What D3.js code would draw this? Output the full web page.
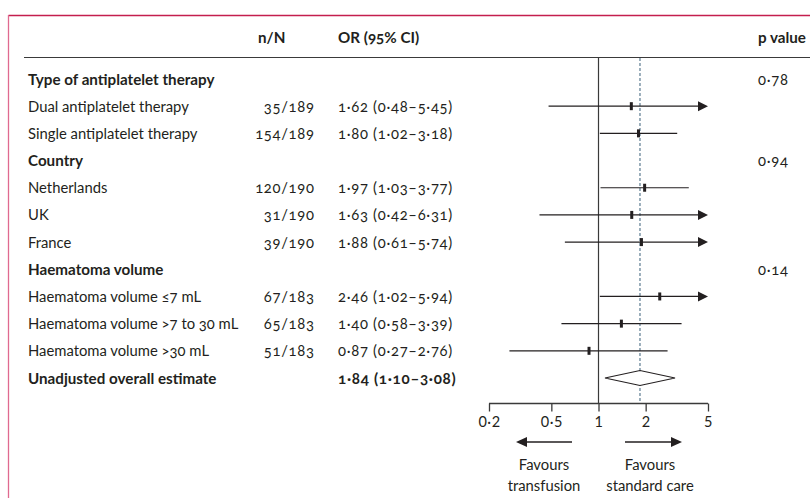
<!DOCTYPE html>
<html>
<head>
<meta charset="utf-8">
<script src="https://cdn.jsdelivr.net/npm/d3@7"></script>
<style>
  body { margin: 0; background: #fff; }
  svg text { font-family: Lato, "Open Sans", sans-serif; font-size: 14.8px; fill: #231f20;
             font-variant-numeric: oldstyle-nums; }
  svg text.bold { font-weight: bold; font-size: 15.2px; }
  svg text.num { letter-spacing: 0.7px; }
  svg .tick text { font-variant-numeric: lining-nums; font-size: 14.5px; letter-spacing: 0.5px; }
</style>
</head>
<body>
<svg id="chart" width="810" height="498"></svg>
<script>
// rows of the forest plot, top to bottom
var labels = ["Type of antiplatelet therapy", "Dual antiplatelet therapy", "Single antiplatelet therapy",
              "Country", "Netherlands", "UK", "France",
              "Haematoma volume", "Haematoma volume \u22647 mL", "Haematoma volume >7 to 30 mL",
              "Haematoma volume >30 mL", "Unadjusted overall estimate"];
var rowType = ["head", "item", "item", "head", "item", "item", "item",
               "head", "item", "item", "item", "total"];
var counts = ["", "35/189", "154/189", "", "120/190", "31/190", "39/190",
              "", "67/183", "65/183", "51/183", ""];
var or = [null, 1.62, 1.80, null, 1.97, 1.63, 1.88, null, 2.46, 1.40, 0.87, 1.84];
var ciLow = [null, 0.48, 1.02, null, 1.03, 0.42, 0.61, null, 1.02, 0.58, 0.27, 1.10];
var ciHigh = [null, 5.45, 3.18, null, 3.77, 6.31, 5.74, null, 5.94, 3.39, 2.76, 3.08];
var pValues = ["0\u00b778", "", "", "0\u00b794", "", "", "", "0\u00b714", "", "", "", ""];
var ticks = [0.2, 0.5, 1, 2, 5];

var svg = d3.select("#chart");

function fmt(v) {
    return v.toFixed(2).replace(".", "\u00b7");
}

// frame
svg.append("line").attr("x1", 8.5).attr("x2", 810).attr("y1", 15.5).attr("y2", 15.5)
   .attr("stroke", "#c41e4e").attr("stroke-width", 1.3);
svg.append("line").attr("x1", 8.5).attr("x2", 8.5).attr("y1", 15).attr("y2", 498)
   .attr("stroke", "#e06a90").attr("stroke-width", 1.3);

var x = d3.scaleLog().domain([0.2, 5]).range([489, 708]);
var y = d3.scalePoint().domain(d3.range(labels.length)).range([79, 378]);

var colN = 314, colOR = 338, colP = 758, colLabel = 28;

// header
var hy = 43;
svg.append("text").attr("class", "bold").attr("x", 258).attr("y", hy).text("n/N");
svg.append("text").attr("class", "bold").attr("x", colOR).attr("y", hy).text("OR (95% CI)");
svg.append("text").attr("class", "bold").attr("x", colP).attr("y", hy).text("p value");
svg.append("line").attr("x1", 24).attr("x2", 810).attr("y1", 57.5).attr("y2", 57.5)
   .attr("stroke", "#3a3a3a").attr("stroke-width", 1.2);

// reference lines
var axisY = 403.5;
svg.append("line").attr("x1", x(1)).attr("x2", x(1)).attr("y1", 58).attr("y2", axisY)
   .attr("stroke", "#3a3a3a").attr("stroke-width", 1.2);
svg.append("line").attr("x1", x(or[11])).attr("x2", x(or[11])).attr("y1", 58).attr("y2", axisY)
   .attr("stroke", "#4d6f86").attr("stroke-width", 1.1).attr("stroke-dasharray", "3,2");

// text columns
var rows = svg.append("g").selectAll("g").data(d3.range(labels.length)).join("g")
  .attr("transform", function(i) { return "translate(0," + (y(i) + 5.5) + ")"; });

rows.append("text").attr("x", colLabel)
  .attr("class", function(i) { return rowType[i] == "item" ? null : "bold"; })
  .text(function(i) { return labels[i]; });
rows.append("text").attr("class", "num").attr("x", colN + 0.7).attr("text-anchor", "end")
  .text(function(i) { return counts[i]; });
rows.append("text").attr("x", colOR)
  .attr("class", function(i) { return rowType[i] == "total" ? "bold num" : "num"; })
  .text(function(i) { return or[i] == null ? "" : fmt(or[i]) + " (" + fmt(ciLow[i]) + "\u2013" + fmt(ciHigh[i]) + ")"; });
rows.append("text").attr("class", "num").attr("x", colP)
  .text(function(i) { return pValues[i]; });

// confidence intervals
var items = d3.range(labels.length).filter(function(i) { return rowType[i] == "item"; });
var maxX = x.domain()[1];
var g = svg.append("g");

items.forEach(function(i) {
    var cy = y(i);
    var hi = Math.min(ciHigh[i], maxX);
    var clipped = ciHigh[i] > maxX;
    var xEnd = clipped ? x(maxX) - 10 : x(hi);
    g.append("line").attr("x1", x(ciLow[i])).attr("x2", xEnd).attr("y1", cy).attr("y2", cy)
      .attr("stroke", "#231f20").attr("stroke-width", 1.2);
    if (clipped) {
        g.append("path")
          .attr("d", "M" + (x(maxX) - 10) + "," + (cy - 5) + "L" + x(maxX) + "," + cy + "L" + (x(maxX) - 10) + "," + (cy + 5) + "Z")
          .attr("fill", "#231f20");
    }
    g.append("rect").attr("x", x(or[i]) - 1.5).attr("y", cy - 4).attr("width", 3).attr("height", 8)
      .attr("fill", "#231f20");
});

// overall diamond
var t = 11, ty = y(t);
g.append("path")
  .attr("d", "M" + x(ciLow[t]) + "," + ty + "L" + x(or[t]) + "," + (ty - 7.5) + "L" + x(ciHigh[t]) + "," + ty +
             "L" + x(or[t]) + "," + (ty + 7.5) + "Z")
  .attr("fill", "#fff").attr("stroke", "#231f20").attr("stroke-width", 1.1);

// axis
var axis = svg.append("g").attr("transform", "translate(0," + axisY + ")")
  .call(d3.axisBottom(x).tickValues(ticks).tickSize(8).tickPadding(5)
        .tickFormat(function(d) { return String(d).replace(".", "\u00b7"); }));
axis.select(".domain").attr("stroke", "#3a3a3a").attr("stroke-width", 1.3).attr("d", "M" + x(0.2) + ",0H" + x(5));
axis.selectAll(".tick line").attr("stroke", "#3a3a3a").attr("stroke-width", 1.3);
axis.selectAll(".tick text").attr("fill", null);

// favours arrows
var ay = 442;
function arrow(x1, x2) {
    var dir = x2 > x1 ? 1 : -1;
    svg.append("line").attr("x1", x1).attr("x2", x2 - dir * 10).attr("y1", ay).attr("y2", ay)
      .attr("stroke", "#231f20").attr("stroke-width", 1.3);
    svg.append("path")
      .attr("d", "M" + (x2 - dir * 11) + "," + (ay - 5) + "L" + x2 + "," + ay + "L" + (x2 - dir * 11) + "," + (ay + 5) + "Z")
      .attr("fill", "#231f20");
}
arrow(572, 516);
arrow(625, 682);

var favours = [["Favours", "transfusion"], ["Favours", "standard care"]];
var favX = [544, 650];
favours.forEach(function(lines, k) {
    lines.forEach(function(s, j) {
        svg.append("text").attr("x", favX[k]).attr("y", 470 + j * 21)
          .attr("text-anchor", "middle").text(s);
    });
});
</script>
</body>
</html>
